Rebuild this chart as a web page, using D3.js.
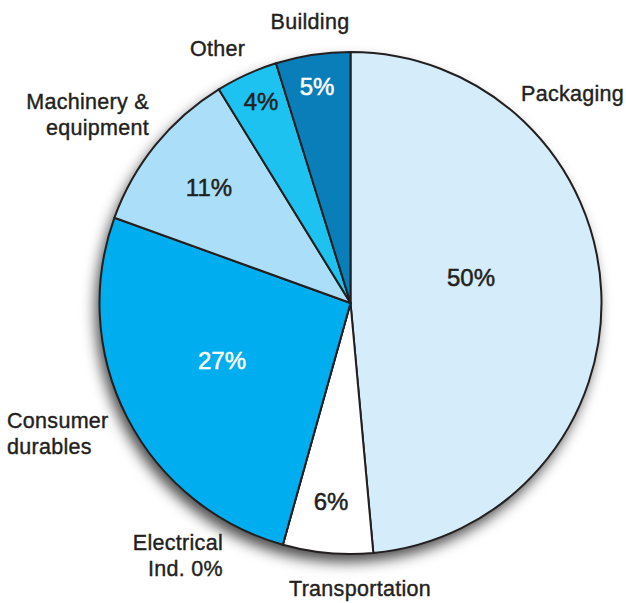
<!DOCTYPE html>
<html lang="en">
<head>
<meta charset="utf-8">
<title>End uses</title>
<script src="https://d3js.org/d3.v7.min.js"></script>
<style>
  body { margin: 0; background: #fff; }
  text { font-family: "Liberation Sans", Arial, Helvetica, sans-serif; fill: #231f20; }
</style>
</head>
<body>
<script>
// data (share of total, clockwise from 12 o'clock)
var categories = ["Packaging", "Transportation", "Electrical Ind.", "Consumer durables", "Machinery & equipment", "Other", "Building"];
var shares     = [48.6, 5.8, 0, 26.2, 10.7, 4.0, 4.8];
var pctLabels  = ["50%", "6%", "0%", "27%", "11%", "4%", "5%"];
var colors     = ["#d5ecfa", "#ffffff", "#ffffff", "#00aeef", "#abdff9", "#1dc2f0", "#0a7eb8"];
var pctColors  = ["#231f20", "#231f20", "#231f20", "#ffffff", "#231f20", "#231f20", "#ffffff"];

// name labels, placed by hand like in the original
var nameLines = [["Packaging"], ["Transportation"], ["Electrical", "Ind. 0%"], ["Consumer", "durables"], ["Machinery &", "equipment"], ["Other"], ["Building"]];
var namePos   = [[521, 101, "start"], [289, 596, "start"], [223, 550, "end"], [7, 428, "start"], [149, 109, "end"], [190, 56, "start"], [310, 29, "middle"]];
var pctPos    = [[471, 286], [331, 510], null, [222, 369], [209, 196], [261, 110], [317, 95]];

var w = 626, h = 603;
var cx = 350.5, cy = 303, r = 251;

var svg = d3.select("body").append("svg")
  .attr("width", w)
  .attr("height", h);

var defs = svg.append("defs");
var f = defs.append("filter").attr("id", "shadow")
  .attr("x", "-20%").attr("y", "-20%").attr("width", "140%").attr("height", "140%");
f.append("feDropShadow")
  .attr("dx", -4).attr("dy", 8)
  .attr("stdDeviation", 7)
  .attr("flood-color", "#000")
  .attr("flood-opacity", 0.7);

var pie = d3.pie().sort(null).value(function(d) { return d; });
var arc = d3.arc().innerRadius(0).outerRadius(r);
var arcs = pie(shares);

var g = svg.append("g").attr("transform", "translate(" + cx + "," + cy + ")");

// shadow disc under the pie
g.append("circle").attr("r", r).attr("fill", "#fff").attr("filter", "url(#shadow)");

g.selectAll("path.slice")
  .data(arcs)
  .enter()
  .append("path")
  .attr("class", "slice")
  .attr("d", arc)
  .attr("fill", function(d, i) { return colors[i]; })
  .attr("stroke", "#231f20")
  .attr("stroke-width", 2)
  .attr("stroke-linejoin", "round");

// percentages inside slices
svg.selectAll("text.pct")
  .data(arcs.filter(function(d, i) { return pctPos[i]; }))
  .enter()
  .append("text")
  .attr("class", "pct")
  .attr("x", function(d) { return pctPos[d.index][0]; })
  .attr("y", function(d) { return pctPos[d.index][1]; })
  .attr("text-anchor", "middle")
  .style("font-size", "24px")
  .style("fill", function(d) { return pctColors[d.index]; })
  .style("stroke", function(d) { return pctColors[d.index]; })
  .style("stroke-width", 0.5)
  .text(function(d) { return pctLabels[d.index]; });

// category names outside
categories.forEach(function(c, i) {
  var t = svg.append("text")
    .attr("x", namePos[i][0])
    .attr("y", namePos[i][1])
    .attr("text-anchor", namePos[i][2])
    .style("font-size", "21.5px")
    .style("letter-spacing", "0.3px")
    .style("stroke", "#231f20")
    .style("stroke-width", 0.4);
  nameLines[i].forEach(function(line, j) {
    t.append("tspan")
      .attr("x", namePos[i][0])
      .attr("dy", j === 0 ? 0 : 26)
      .text(line);
  });
});
</script>
</body>
</html>
